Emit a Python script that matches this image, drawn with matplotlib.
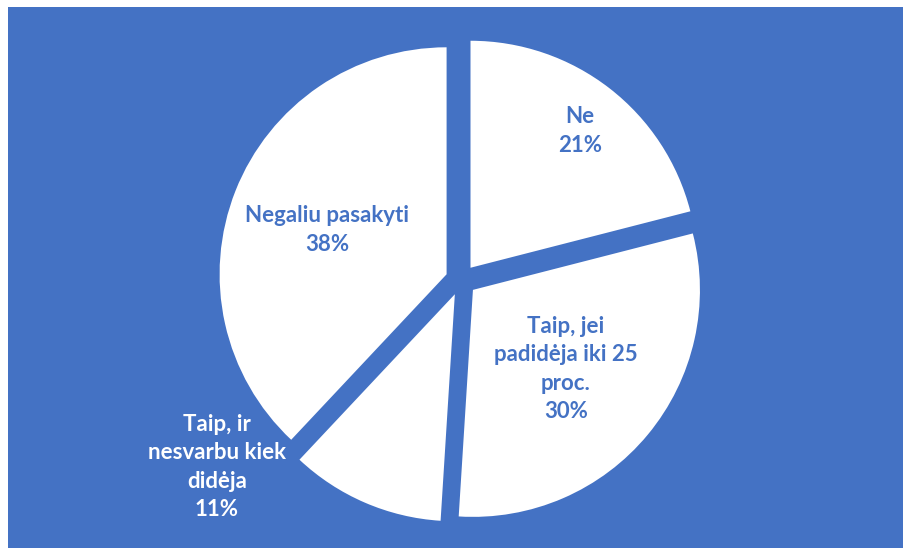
import matplotlib.pyplot as plt
from matplotlib.patches import Rectangle

# survey answers and shares (%)
labels = ['Ne', 'Taip, jei\npadidėja iki 25\nproc.', 'Taip, ir\nnesvarbu kiek\ndidėja', 'Negaliu pasakyti']
shares = [21, 30, 11, 38]

blue = '#4472C4'
W, H = 904, 548

fig = plt.figure(figsize=(W / 100, H / 100), dpi=100)
ax = fig.add_axes([0, 0, 1, 1])

# blue chart area with a thin white margin on the left and top
ax.add_patch(Rectangle((8, 0), W - 8, H - 7, facecolor=blue, edgecolor='none', zorder=0))

cx, cy, R = 461, H - 280, 227
wedges, _ = ax.pie(shares, startangle=90, counterclock=False, radius=R,
                   center=(cx, cy), explode=[15.5] * len(shares),
                   colors=['white'] * len(shares),
                   wedgeprops=dict(linewidth=0), frame=True)
ax.set_xlim(0, W)
ax.set_ylim(0, H)
ax.set_aspect('equal')
ax.axis('off')

# label positions (pixels from top-left) and colours
label_pos = [(580, 131), (566, 369), (217, 467), (327, 230)]
label_col = [blue, blue, 'white', blue]
for lab, s, (x, y), c in zip(labels, shares, label_pos, label_col):
    ax.text(x, H - y, f'{lab}\n{s}%', ha='center', va='center', color=c,
            fontsize=16, fontweight='bold', family='Lato', linespacing=1.45)

fig.savefig('out.png', dpi=100)
